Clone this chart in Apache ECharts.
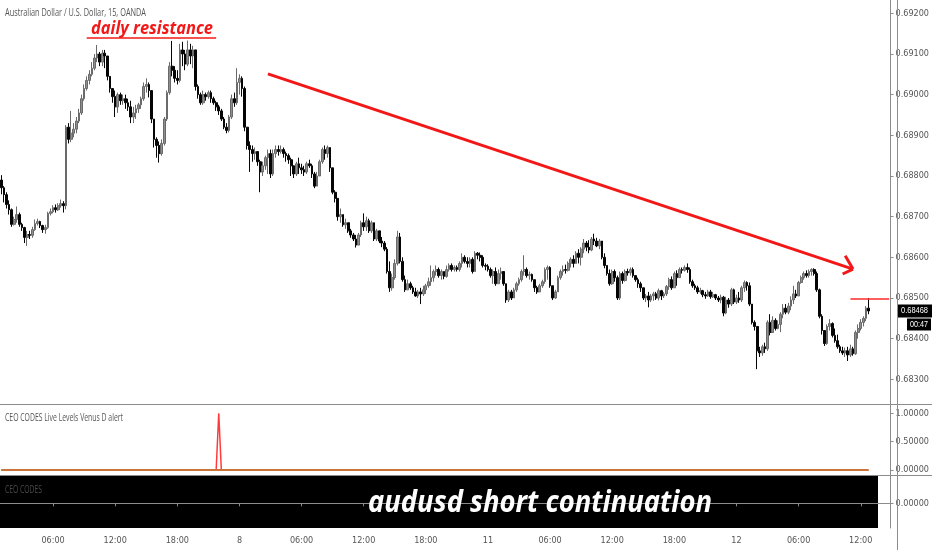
<!DOCTYPE html>
<html>
<head>
<meta charset="utf-8">
<script src="https://cdn.jsdelivr.net/npm/echarts@6/dist/echarts.min.js"></script>
<style>html,body{margin:0;padding:0;background:#fff}#main{width:932px;height:550px}</style>
</head>
<body>
<div id="main"></div>
<script>
// AUDUSD 15m (OANDA) - prices kept as pips above 0.68000
var BASE = 0.68, PIP = 0.0001
var firstOpen = 79.0

// time axis: trading days and bar range (15 min bars) shown for each
var axisDays = ['7', '8', '11', '12']
var dayFirstBar = [4, 0, 0, 0]
var dayEndBar = [96, 96, 96, 60]

// closes per day
var closeD7 = [77.1,75.4,73.0,71.7,68.1,69.3,70.5,68.1,67.3,64.9,
  65.6,65.4,66.8,68.3,68.8,67.8,66.8,67.3,70.8,71.2,
  72.2,71.7,72.7,73.2,72.7,92.0,89.0,90.5,91.5,93.5,
  95.5,99.0,101.5,103.5,105.0,106.5,109,110,108,110.2,
  109.5,104.5,101.5,99.5,97,100,98.5,99.0,98,97,
  94.5,95.5,96.5,97.5,99,102,102.5,101,94,89,
  87.5,85.5,88,94,100.5,107,106,104,103.5,111,
  110,107.5,111,109.5,111,102,100,98,100,99.5,
  100.5,99,98,97,96,94,92,91.2,94.5,99,
  98,103]
var closeD8 = [104,101.5,92,87.5,86.5,85.5,86,83.5,81,82.5,
  84.5,85.5,80.5,85.5,86.5,86,86.5,85.5,85,84,
  82.5,80.5,83,82,81.5,81,83,82.5,80.5,77.5,
  80,83.5,86.5,85.5,87,82,76,74.5,70,70.5,
  68,68.5,66.5,65.5,64.5,63,65.5,68.5,67.5,69,
  66.5,68.5,64.5,66.5,64,63.5,62,56.5,52.5,55,
  58.5,65,59,54.5,52,53.5,52.5,51.5,50.5,51.5,
  51,52,53,54,55,56.5,57,55.5,56.5,55.3,
  57,58,57,57.5,57,58.5,60,59,58.5,59.5,
  56.5,61,60.5,60,58,57.8]
var closeD11 = [57,55.5,56.5,53.5,56,56.5,53.5,49.5,51.5,50,
  52,53.5,54.5,56.5,57,55.5,55.8,54.5,52.5,51.5,
  53,54,57,57.5,53,50,51.5,55,56.5,57,
  56.8,58.5,59.5,58.5,61,60,62,63.5,62.5,61.8,
  64.5,64,62.8,64,60,58,56,53.5,56.5,55,
  50,56,54.3,56.5,56.2,57,55.5,54.5,53.5,52.5,
  50,50.5,49.5,50.5,51,50,51.8,50.5,51,52.8,
  54.5,52.5,56,55,57,56.8,57.5,57,54,53,
  52.5,51.5,51.8,50.8,50.5,51.5,50.3,50.8,50,49.5,
  50.2,46.3,49.5,48.5,52,49]
var closeD12 = [50,49.5,52.5,53.8,53,48.5,44,43,37,36.5,
  38,37.5,44,41.5,44.5,42.5,43.5,46,47.5,46.5,
  48,49.5,51,50.5,53.8,55,56,55.5,56.5,57,
  56,52,45.5,42,38.8,43,43.7,40.8,39.5,38,
  37,36.5,37,36,37.5,36.3,41.5,42.5,44,45,
  47.5,46.8]

// highs per day
var highD7 = [80.2,77.5,76,74,72,70,72.5,71,68.5,67.5,
  66.5,66.5,67.5,69.3,69.5,69.0,68.0,68.0,71.2,72.0,
  72.8,73.0,73.3,74.2,73.8,92.5,93,96,93,94.5,
  96.5,100,102.5,104.5,106,108,110,112.2,110.5,111,
  111,108.5,104.5,101.5,101,100.5,100.5,100,100,99,
  98.5,97,97.5,98,99.5,103,104,103,101,94,
  89.5,88.5,89,94.5,101,108,113.2,107,106,112.5,
  113,111,113.3,112.5,112,110.5,102.5,100.5,101,100.5,
  101,101,99.5,98.5,97.5,96.5,94.5,93,95,100,
  100.5,106.5]
var highD8 = [105,104.5,102,92,88.5,87.5,87,86,84,83.5,
  85,86.5,86.5,86.5,87.5,87.5,87.5,87,86,85.5,
  84.5,82,83.5,84.5,83,82.5,83.5,84,83,81,
  81,84,87,87.5,87.5,87,82,76.5,74.5,72,
  70.5,69.5,68.5,67,66,65.5,66,69,70.8,70,
  69.5,69,68.5,67,66.5,65,64,62.5,59,56,
  59.5,66.5,66,60,55.5,54.5,54,53,52.5,52,
  52.5,53,53.5,55,58,57,58,57.5,57,56.5,
  58,58.5,58.5,58,58,59,61,60.5,60,60,
  60,61.5,61.3,61.2,60.5,58.5]
var highD11 = [58.3,57.5,57,57.5,57,57.5,56.5,53.5,52,52,
  52.5,54,55,57,60.5,57.5,56.5,56,54.5,53,
  53.5,54.5,57.5,58,57.8,53,52,55.5,57,58,
  58.2,59,60,60.5,61.5,62,62.5,64.5,64,64.2,
  65,65.8,64.8,64.5,64,61,58,57,57,57,
  55.5,56.5,56.5,57,57.2,57.5,57.5,55.5,55,54,
  52.5,51,51.5,51,51.5,51.5,52.3,52,51.5,53.2,
  55,55.3,56.5,56.8,57.5,57.5,58,58.5,57.5,54.5,
  53.5,53,52.5,52,51.5,52,52,51.5,51,50.5,
  50.8,50.5,50.3,50,52.5,52.3]
var highD12 = [50.8,51.5,53,54.3,54.1,53.8,48.5,44.5,42.5,38,
  38.5,39,44.5,46,45.5,45,44.5,46.5,48.5,48.5,
  48.8,50.4,53,52,54.2,55.5,56.5,56.8,57,57.3,
  57.3,56.5,52.3,46,42,43.5,44.8,44,42.5,41,
  38.5,38,37.8,38,38.5,38,42,43.5,44.8,45.5,
  48,50]

// lows per day
var lowD7 = [75.5,73.5,72,70.5,67.5,67.8,68.5,67.5,66.5,63.5,
  62.8,64.5,64.8,66.5,67.8,67.2,66.0,65.8,67.0,70.3,
  70.8,71.0,71.4,72.2,71.0,71.8,88,88.3,89.5,90.5,
  93.0,95,98.5,101,102.5,104.5,106,108,107,107,
  106.5,103.5,100.5,98,94.5,95.5,97.5,97.5,96.5,96,
  93.0,93,94,95.5,96.5,98.5,100.5,99.3,93,87,
  84.5,83.3,85,87.5,93.5,100,104.5,103,102.5,103,
  107,106,107,107.5,106.5,101,99,97.5,97.5,98.5,
  99,98,97.5,96,95,93.5,91.5,90.5,90.7,94,
  97,97.5]
var lowD8 = [100,99.5,91,86.5,81,83.5,84,82.5,76,80,
  81.5,80.5,79.5,80,84.5,85,85.5,84.5,83.5,83,
  80,79.5,80,80.5,80.5,80,80.5,82,79.5,77,
  77.5,80,83,84,84.5,81,75.5,73.5,69,68.5,
  67.5,67,66,64.8,64,62.4,63,65,66.5,66.5,
  66,66,64,64,63.5,62.5,61.5,56,51.5,51.8,
  54.5,58,58.5,54,51.5,52,52,51,50.3,50,
  48.5,50.5,51,52.5,53,54,55.5,55,54.5,54.6,
  55,56.5,56.5,56.5,56.5,56.5,57.5,58.5,57.5,57.5,
  56,56.5,59.5,59,57.5,56.8]
var lowD11 = [56.5,55,53.5,53,54,54.5,53,48.8,49,49.5,
  50,51.5,53,54,55.5,55,54.5,54,51.5,51,
  51.5,52.5,53.5,54.5,52.5,49.5,49.8,51.5,54.5,55.5,
  56,56.5,57.5,57.5,58.5,58.5,58,61,61.5,61,
  61.5,63,62.5,62,59.5,57.3,55.5,53,53.2,54,
  49.5,49.5,53.5,54,55.5,55.5,55,54,52.5,51.5,
  49.5,49,47.7,49,49.3,49.5,49.4,49.5,50,50.5,
  52,52,52.5,53,55,56,56.5,56.2,53.5,52.5,
  52,51,51,50.2,49.8,50.3,49.8,50,49.5,49,
  48.7,45.5,46,47.6,48,48.5]
var lowD12 = [48.5,48.8,49,51.5,51.8,48,43.5,42,32.5,35.5,
  35.8,36.5,37,40.8,43,42,42.3,41.6,45,46,
  46,47,48.5,50,51.5,53.5,54.5,55,55,55.5,
  55.5,51.5,45,41,38.2,38.5,42,40.3,39,37.5,
  36.5,36,35.5,34.5,35.5,35.8,36,40,42,43,
  44.3,46]

// indicator pane: alert fired on these bars, level line value
var alertBars = [84]
var alertLevel = 0

// right scale ticks
var priceTicks = [0.683, 0.684, 0.685, 0.686, 0.687, 0.688, 0.689, 0.690, 0.691, 0.692]
var alertTicks = [0, 0.5, 1]

// drawings on the chart, [bar index, price]
var trendLine = [[103, 0.69051], [329, 0.68571]]
var arrowWings = [[326, 0.68604], [325, 0.68559]]
var resistanceLine = [[33, 0.69139], [83, 0.69139]]
var lastBarLevel = [[328, 0.68498], [343, 0.68498]]
var countdown = '00:47'

function px(v){ return +(BASE + v * PIP).toFixed(5) }
function pad(n){ return n < 10 ? '0' + n : '' + n }

// categories
var cats = []
for (var d = 0; d < axisDays.length; d++) {
  for (var b = dayFirstBar[d]; b < dayEndBar[d]; b++) {
    cats.push(axisDays[d] + ' ' + pad(Math.floor(b / 4)) + ':' + pad((b % 4) * 15))
  }
}

// candles [open, close, low, high]
var closes = closeD7.concat(closeD8, closeD11, closeD12)
var highs = highD7.concat(highD8, highD11, highD12)
var lows = lowD7.concat(lowD8, lowD11, lowD12)
var candles = []
var prev = firstOpen
for (var i = 0; i < closes.length; i++) {
  var o = prev, c = closes[i]
  var h = Math.max(highs[i], o, c), l = Math.min(lows[i], o, c)
  candles.push([px(o), px(c), px(l), px(h)])
  prev = c
}
var alertData = closes.map(function(v, i){ return alertBars.indexOf(i) >= 0 ? 1 : 0 })
var levelData = closes.map(function(){ return alertLevel })

function seg(a, b, w, color){
  return [{coord: [cats[a[0]], a[1]], lineStyle: {width: w, color: color, type: 'solid', opacity: 1}}, {coord: [cats[b[0]], b[1]]}]
}

var axisFont = "'Liberation Sans Narrow', 'DejaVu Sans Condensed', 'Liberation Sans', sans-serif"
var axisGrey = '#8c8c8c'

function isMajor(idx, val){
  var t = val.split(' ')[1]
  return t.slice(3) === '00' && (+t.slice(0, 2)) % 6 === 0
}

function yAx(grid, min, max, ticks){
  return {
    type: 'value', gridIndex: grid, position: 'right', min: min, max: max, scale: true,
    axisLine: {show: true, lineStyle: {color: axisGrey}},
    axisTick: {show: true, length: 3, lineStyle: {color: axisGrey}, customValues: ticks},
    axisLabel: {show: true, color: '#555', fontSize: 9, fontFamily: axisFont, margin: 5, customValues: ticks,
      formatter: function(v){ return v.toFixed(5) }},
    splitLine: {show: false}
  }
}
function xAx(grid, show){
  return {
    type: 'category', gridIndex: grid, data: cats, boundaryGap: true,
    axisLine: {show: show, lineStyle: {color: axisGrey}},
    axisTick: {show: show, length: 3, alignWithLabel: true, interval: isMajor, lineStyle: {color: axisGrey}},
    axisLabel: {show: show, interval: isMajor, color: '#555', fontSize: 9, fontFamily: axisFont, margin: 8,
      formatter: function(v){ var p = v.split(' '); return p[1] === '00:00' ? p[0] : p[1] }},
    splitLine: {show: false}
  }
}

var chart = echarts.init(document.getElementById('main'))
chart.setOption({
  animation: false,
  backgroundColor: '#fff',
  grid: [
    {left: 0, right: 35, top: 0, height: 404},
    {left: 0, right: 35, top: 405, height: 70},
    {left: 0, right: 35, top: 476, height: 52}
  ],
  xAxis: [xAx(0, false), xAx(1, false), xAx(2, true)],
  yAxis: [
    yAx(0, 0.682393, 0.692327, priceTicks),
    yAx(1, -0.088, 1.146, alertTicks),
    yAx(2, -1, 1.105, [0])
  ],
  series: [
    {
      type: 'candlestick', xAxisIndex: 0, yAxisIndex: 0, data: candles, barWidth: 2.2,
      itemStyle: {color: '#8e8e8e', color0: '#050505', borderColor: '#6a6a6a', borderColor0: '#050505', borderWidth: 1},
      markLine: {
        silent: true, symbol: ['none', 'none'], label: {show: false}, animation: false,
        data: [
          seg(trendLine[0], trendLine[1], 3, '#f21818'),
          seg(trendLine[1], arrowWings[0], 3, '#f21818'),
          seg(trendLine[1], arrowWings[1], 3, '#f21818'),
          seg(resistanceLine[0], resistanceLine[1], 1.5, '#f21818'),
          seg(lastBarLevel[0], lastBarLevel[1], 1.5, '#ff2a2a')
        ]
      }
    },
    {type: 'line', xAxisIndex: 1, yAxisIndex: 1, data: alertData, showSymbol: false,
      lineStyle: {color: '#ff3b3b', width: 1.5}, z: 2},
    {type: 'line', xAxisIndex: 1, yAxisIndex: 1, data: levelData, showSymbol: false,
      lineStyle: {color: '#c8743a', width: 2}, z: 3}
  ]
})

// text widths in the screenshot are squeezed; fit each label to its width
var ctx = document.createElement('canvas').getContext('2d')
function fit(text, font, w){ ctx.font = font; return w / ctx.measureText(text).width }
function label(text, x, y, font, w, fill){
  return {type: 'text', x: x, y: y, scaleX: fit(text, font, w), z: 100,
    style: {text: text, font: font, fill: fill, align: 'left', verticalAlign: 'middle'}}
}

var lastPrice = candles[candles.length - 1][1]
var ly = chart.convertToPixel({yAxisIndex: 0}, lastPrice)
var titleFont = "10px 'Open Sans'"
var boldIt = "italic bold 18px 'Open Sans'"
var bigIt = "italic bold 30px 'Open Sans'"
var boxFont = "9px 'Liberation Sans'"

chart.setOption({
  graphic: {elements: [
    {type: 'rect', shape: {x: 0, y: 476, width: 878, height: 52}, style: {fill: '#000'}, z: -1},
    {type: 'line', shape: {x1: 0, y1: 404.5, x2: 932, y2: 404.5}, style: {stroke: axisGrey, lineWidth: 1}, z: 50},
    {type: 'line', shape: {x1: 0, y1: 475.5, x2: 932, y2: 475.5}, style: {stroke: axisGrey, lineWidth: 1}, z: 50},
    {type: 'line', shape: {x1: 897.5, y1: 0, x2: 897.5, y2: 550}, style: {stroke: axisGrey, lineWidth: 1}, z: 50},
    label('Australian Dollar / U.S. Dollar, 15, OANDA', 5, 13, titleFont, 141, '#555'),
    label('daily resistance', 91, 29, boldIt, 122, '#f21818'),
    label('CEO CODES Live Levels Venus D alert', 5, 418, titleFont, 118, '#555'),
    label('CEO CODES', 5, 490, titleFont, 37, '#4a4a4a'),
    label('audusd short continuation', 368, 503, bigIt, 344, '#fff'),
    {type: 'rect', shape: {x: 898, y: ly - 6.5, width: 34, height: 13}, style: {fill: '#000'}, z: 100},
    label(lastPrice.toFixed(5), 901, ly, boxFont, 27, '#fff'),
    {type: 'rect', shape: {x: 907, y: ly + 7.5, width: 24, height: 12}, style: {fill: '#000'}, z: 100},
    label(countdown, 910, ly + 13.5, boxFont, 18, '#fff')
  ]}
})
</script>
</body>
</html>
